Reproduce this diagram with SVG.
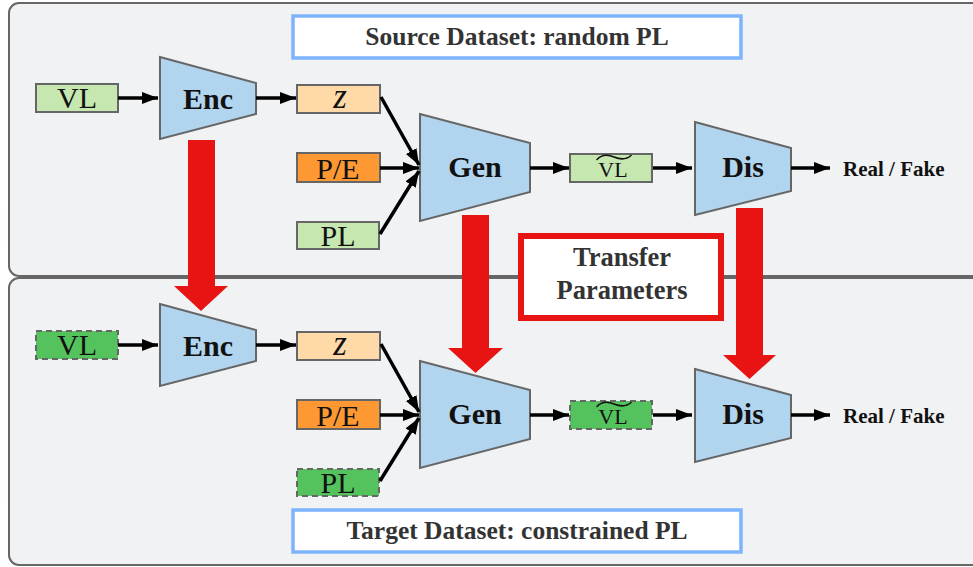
<svg xmlns="http://www.w3.org/2000/svg" width="973" height="567" viewBox="0 0 973 567">
<defs>
<marker id="ah" markerUnits="userSpaceOnUse" markerWidth="18" markerHeight="14" refX="16" refY="6" orient="auto"><path d="M0,0 L16,6 L0,12 Z" fill="#000"/></marker>
<style>
.panel{fill:#f1f2f4;stroke:#666;stroke-width:2}
.title{fill:#fff;stroke:#7db4fb;stroke-width:3.5}
.tt{font-family:"Liberation Serif",serif;font-weight:bold;font-size:25.5px;fill:#333;text-anchor:middle}
.box{stroke:#666;stroke-width:2}
.dash{stroke-dasharray:6,4}
.lg{fill:#c6e8b0}
.dg{fill:#54c35d}
.lo{fill:#ffdaa8}
.or{fill:#fd9833}
.trap{fill:#b1d5ef;stroke:#666;stroke-width:2}
.lbl{font-family:"Liberation Serif",serif;font-size:30px;fill:#111;text-anchor:middle}
.zl{font-family:"Liberation Serif",serif;font-style:italic;font-size:35px;fill:#111;text-anchor:middle}
.net{font-family:"Liberation Serif",serif;font-weight:bold;font-size:30px;fill:#111;text-anchor:middle}
.small{font-family:"Liberation Serif",serif;font-size:22px;fill:#111;text-anchor:middle}
.tilde{fill:none;stroke:#111;stroke-width:1.6;stroke-linecap:round}
.rf{font-family:"Liberation Serif",serif;font-weight:bold;font-size:21px;fill:#111}
.con{stroke:#000;stroke-width:3.5;fill:none;marker-end:url(#ah)}
.red{fill:#e81414}
</style>
</defs>

<g id="panel-source"><rect class="panel" x="9" y="3" width="980" height="273" rx="10"/></g>
<g id="panel-target"><rect class="panel" x="9" y="278" width="980" height="287" rx="10"/></g>

<g id="title-source"><rect class="title" x="293" y="16" width="448" height="42"/><text class="tt" x="517" y="45">Source Dataset: random PL</text></g>
<g id="title-target"><rect class="title" x="293" y="510" width="448" height="42"/><text class="tt" x="517" y="539">Target Dataset: constrained PL</text></g>

<g id="red-arrows">
<path class="red" d="M188,140 H215 V286 H228 L201,311 L174,286 H188 Z"/>
<path class="red" d="M462,215 H489 V348 H503 L475.5,373 L448,348 H462 Z"/>
<path class="red" d="M736,208 H763 V355 H776 L749.5,379 L723,355 H736 Z"/>
</g>

<g id="transfer"><rect x="521" y="236" width="200" height="82" fill="#fff" stroke="#e81414" stroke-width="6"/><text class="tt" x="622" y="266" style="font-size:26.5px">Transfer</text><text class="tt" x="622" y="299" style="font-size:26.5px">Parameters</text></g>

<!-- source row -->
<g id="s-vl"><rect class="box lg" x="36" y="84" width="82" height="28"/><text class="lbl" x="77" y="108">VL</text></g>
<g id="s-enc"><path class="trap" d="M160,57 L256,83 L256,114 L160,139 Z"/><text class="net" x="208" y="109">Enc</text></g>
<g id="s-z"><rect class="box lo" x="297" y="85" width="83" height="28"/><text class="zl" x="340" y="108">z</text></g>
<g id="s-pe"><rect class="box or" x="297" y="153" width="83" height="29"/><text class="lbl" x="338" y="179">P/E</text></g>
<g id="s-pl"><rect class="box lg" x="297" y="222" width="82" height="27"/><text class="lbl" x="338" y="246">PL</text></g>
<g id="s-gen"><path class="trap" d="M420,114 L530,143 L530,192 L420,221 Z"/><text class="net" x="475" y="177">Gen</text></g>
<g id="s-vlt"><rect class="box lg" x="570" y="154" width="82" height="28"/><text class="small" x="613" y="177">VL</text><path class="tilde" d="M597,159.5 C602,154 608,154.5 614,157 C620,159.5 626,160 631,155.5"/></g>
<g id="s-dis"><path class="trap" d="M695,122 L791,148 L791,191 L695,215 Z"/><text class="net" x="743" y="177">Dis</text></g>
<g id="s-rf"><text class="rf" x="843" y="176">Real / Fake</text></g>

<!-- target row -->
<g id="t-vl"><rect class="box dg dash" x="36" y="331" width="82" height="28"/><text class="lbl" x="77" y="355">VL</text></g>
<g id="t-enc"><path class="trap" d="M160,304 L256,330 L256,361 L160,386 Z"/><text class="net" x="208" y="356">Enc</text></g>
<g id="t-z"><rect class="box lo" x="297" y="332" width="83" height="28"/><text class="zl" x="340" y="355">z</text></g>
<g id="t-pe"><rect class="box or" x="297" y="400" width="83" height="29"/><text class="lbl" x="338" y="426">P/E</text></g>
<g id="t-pl"><rect class="box dg dash" x="297" y="469" width="82" height="27"/><text class="lbl" x="338" y="493">PL</text></g>
<g id="t-gen"><path class="trap" d="M420,361 L530,390 L530,439 L420,468 Z"/><text class="net" x="475" y="424">Gen</text></g>
<g id="t-vlt"><rect class="box dg dash" x="570" y="401" width="82" height="28"/><text class="small" x="613" y="424">VL</text><path class="tilde" d="M597,406.5 C602,401 608,401.5 614,404 C620,406.5 626,407 631,402.5"/></g>
<g id="t-dis"><path class="trap" d="M695,369 L791,395 L791,438 L695,462 Z"/><text class="net" x="743" y="424">Dis</text></g>
<g id="t-rf"><text class="rf" x="843" y="423">Real / Fake</text></g>

<g id="connectors">
<line class="con" x1="118" y1="98" x2="158" y2="98"/>
<line class="con" x1="256" y1="98" x2="296" y2="98"/>
<line class="con" x1="381" y1="97" x2="419" y2="165"/>
<line class="con" x1="380" y1="168" x2="419" y2="168"/>
<line class="con" x1="380" y1="234" x2="419" y2="171"/>
<line class="con" x1="530" y1="168" x2="569" y2="168"/>
<line class="con" x1="653" y1="168" x2="692" y2="168"/>
<line class="con" x1="791" y1="168" x2="830" y2="168"/>
<line class="con" x1="118" y1="345" x2="158" y2="345"/>
<line class="con" x1="256" y1="345" x2="296" y2="345"/>
<line class="con" x1="381" y1="344" x2="419" y2="412"/>
<line class="con" x1="380" y1="415" x2="419" y2="415"/>
<line class="con" x1="380" y1="481" x2="419" y2="418"/>
<line class="con" x1="530" y1="415" x2="569" y2="415"/>
<line class="con" x1="653" y1="415" x2="692" y2="415"/>
<line class="con" x1="791" y1="415" x2="830" y2="415"/>
</g>
</svg>
